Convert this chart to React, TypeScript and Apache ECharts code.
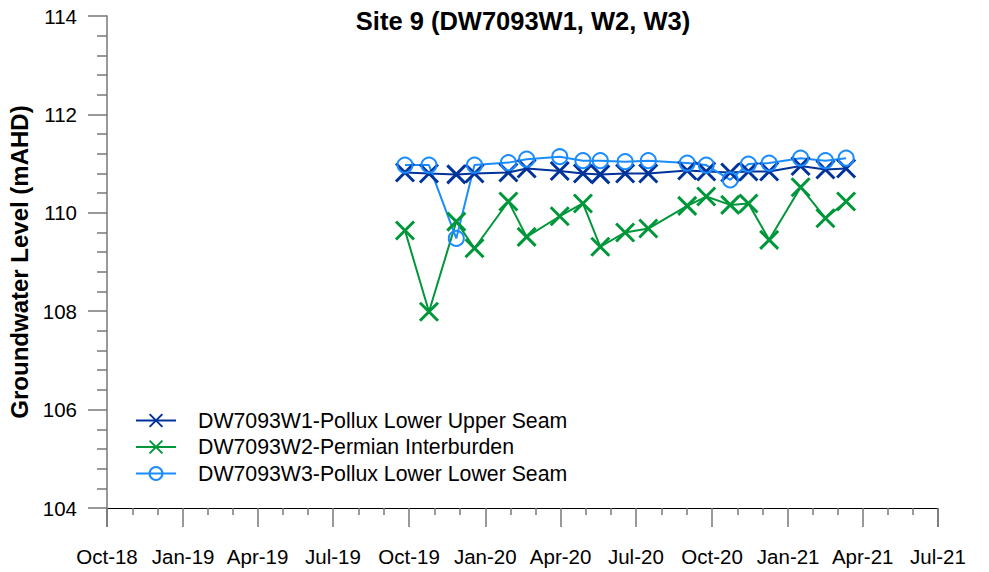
import React, { useEffect, useRef } from "react";
import * as echarts from "echarts";

const FONT = "'Liberation Sans', Arial, Helvetica, sans-serif";

const titleText = "Site 9 (DW7093W1, W2, W3)";
const yAxisName = "Groundwater Level (mAHD)";
const seriesNames = [
  "DW7093W1-Pollux Lower Upper Seam",
  "DW7093W2-Permian Interburden",
  "DW7093W3-Pollux Lower Lower Seam",
];
const seriesColors = ["#003399", "#00973a", "#1a8cff"];

const sampleDates = [
  "2019-09-26", "2019-10-25", "2019-11-27", "2019-12-19", "2020-01-29",
  "2020-02-20", "2020-03-31", "2020-04-28", "2020-05-19", "2020-06-18",
  "2020-07-16", "2020-09-01", "2020-09-24", "2020-10-23", "2020-11-14",
  "2020-12-09", "2021-01-16", "2021-02-15", "2021-03-12",
];
const w1Values = [
  110.82, 110.8, 110.78, 110.8, 110.82, 110.9, 110.85, 110.8, 110.78, 110.8,
  110.8, 110.86, 110.84, 110.82, 110.84, 110.84, 110.95, 110.88, 110.9,
];
const w2Values = [
  109.64, 107.99, 109.82, 109.28, 110.23, 109.51, 109.93, 110.19, 109.31, 109.6,
  109.68, 110.14, 110.33, 110.16, 110.19, 109.45, 110.52, 109.89, 110.23,
];
const w3Values = [
  110.97, 110.97, 109.48, 110.97, 111.02, 111.09, 111.14, 111.06, 111.06, 111.04,
  111.06, 111.01, 110.97, 110.67, 110.99, 111.01, 111.11, 111.06, 111.11,
];

const xMinDate = [2018, 9, 1];
const xMaxDate = [2021, 6, 1];
const yMin = 104;
const yMax = 114;
const yInterval = 2;
const monthNames = ["Jan", "Feb", "Mar", "Apr", "May", "Jun", "Jul", "Aug", "Sep", "Oct", "Nov", "Dec"];

const toTs = (s: string) => {
  const [y, m, d] = s.split("-").map(Number);
  return new Date(y, m - 1, d).getTime();
};

const CROSS = "path://M0,0L10,10M10,0L0,10";

export default function App() {
  const ref = useRef<HTMLDivElement>(null);
  useEffect(() => {
    if (!ref.current) return;
    const chart = echarts.init(ref.current, null, { renderer: "svg" });
    const mk = (vals: number[]) => sampleDates.map((d, i) => [toTs(d), vals[i]]);
    const crossSeries = (idx: number, vals: number[]) => ({
      name: seriesNames[idx],
      type: "line",
      data: mk(vals),
      symbol: CROSS,
      symbolSize: 18,
      showAllSymbol: true,
      lineStyle: { color: seriesColors[idx], width: 2 },
      itemStyle: { color: seriesColors[idx], borderColor: seriesColors[idx], borderWidth: 3 },
      color: seriesColors[idx],
    });
    chart.setOption({
      animation: false,
      backgroundColor: "#ffffff",
      textStyle: { fontFamily: FONT },
      graphic: [
        {
          type: "text",
          x: 523,
          y: 8,
          style: {
            text: titleText,
            fill: "#000",
            font: `bold 25.5px ${FONT}`,
            textAlign: "center",
            textVerticalAlign: "top",
          },
        },
      ],
      legend: {
        orient: "vertical",
        left: 135,
        top: 410,
        padding: 0,
        itemWidth: 40,
        itemHeight: 16,
        itemGap: 5.5,
        textStyle: { fontFamily: FONT, fontSize: 21.3, lineHeight: 21, color: "#000", padding: [0, 0, 0, 17] },
        data: seriesNames,
      },
      grid: { left: 107, right: 51, top: 16, bottom: 64, containLabel: false, outerBoundsMode: "none" },
      xAxis: {
        type: "time",
        min: new Date(xMinDate[0], xMinDate[1], xMinDate[2]).getTime(),
        max: new Date(xMaxDate[0], xMaxDate[1], xMaxDate[2]).getTime(),
        minInterval: 3 * 30 * 86400000,
        maxInterval: 3 * 31 * 86400000,
        splitLine: { show: false },
        axisLine: { show: true, lineStyle: { color: "#000", width: 1 } },
        axisTick: { show: true, length: 19, lineStyle: { color: "#777", width: 1.5 } },
        minorTick: { show: true, splitNumber: 3, length: 7, lineStyle: { color: "#777", width: 1.5 } },
        minorSplitLine: { show: false },
        axisLabel: {
          show: true,
          margin: 38,
          fontSize: 20.5,
          color: "#000",
          fontFamily: FONT,
          hideOverlap: false,
          formatter: (v: number) => {
            const d = new Date(v);
            return `${monthNames[d.getMonth()]}-${String(d.getFullYear()).slice(2)}`;
          },
        },
      },
      yAxis: {
        type: "value",
        min: yMin,
        max: yMax,
        interval: yInterval,
        name: yAxisName,
        nameLocation: "middle",
        nameRotate: 90,
        nameGap: 76,
        nameTextStyle: { fontFamily: FONT, fontSize: 24, fontWeight: "bold", color: "#000" },
        splitLine: { show: false },
        axisLine: { show: true, lineStyle: { color: "#777", width: 1.5 } },
        axisTick: { show: true, length: 19, lineStyle: { color: "#777", width: 1.5 } },
        minorTick: { show: true, splitNumber: 5, length: 10, lineStyle: { color: "#777", width: 1.5 } },
        axisLabel: { margin: 30, fontSize: 20.5, color: "#000", fontFamily: FONT },
      },
      series: [
        crossSeries(0, w1Values),
        crossSeries(1, w2Values),
        {
          name: seriesNames[2],
          type: "line",
          data: mk(w3Values),
          symbol: "circle",
          symbolSize: 15,
          showAllSymbol: true,
          lineStyle: { color: seriesColors[2], width: 2 },
          itemStyle: { color: "rgba(255,255,255,0)", borderColor: seriesColors[2], borderWidth: 2 },
          color: seriesColors[2],
        },
      ],
    });
    return () => chart.dispose();
  }, []);
  return <div ref={ref} style={{ width: 989, height: 572, position: "absolute", left: 0, top: 0 }} />;
}
